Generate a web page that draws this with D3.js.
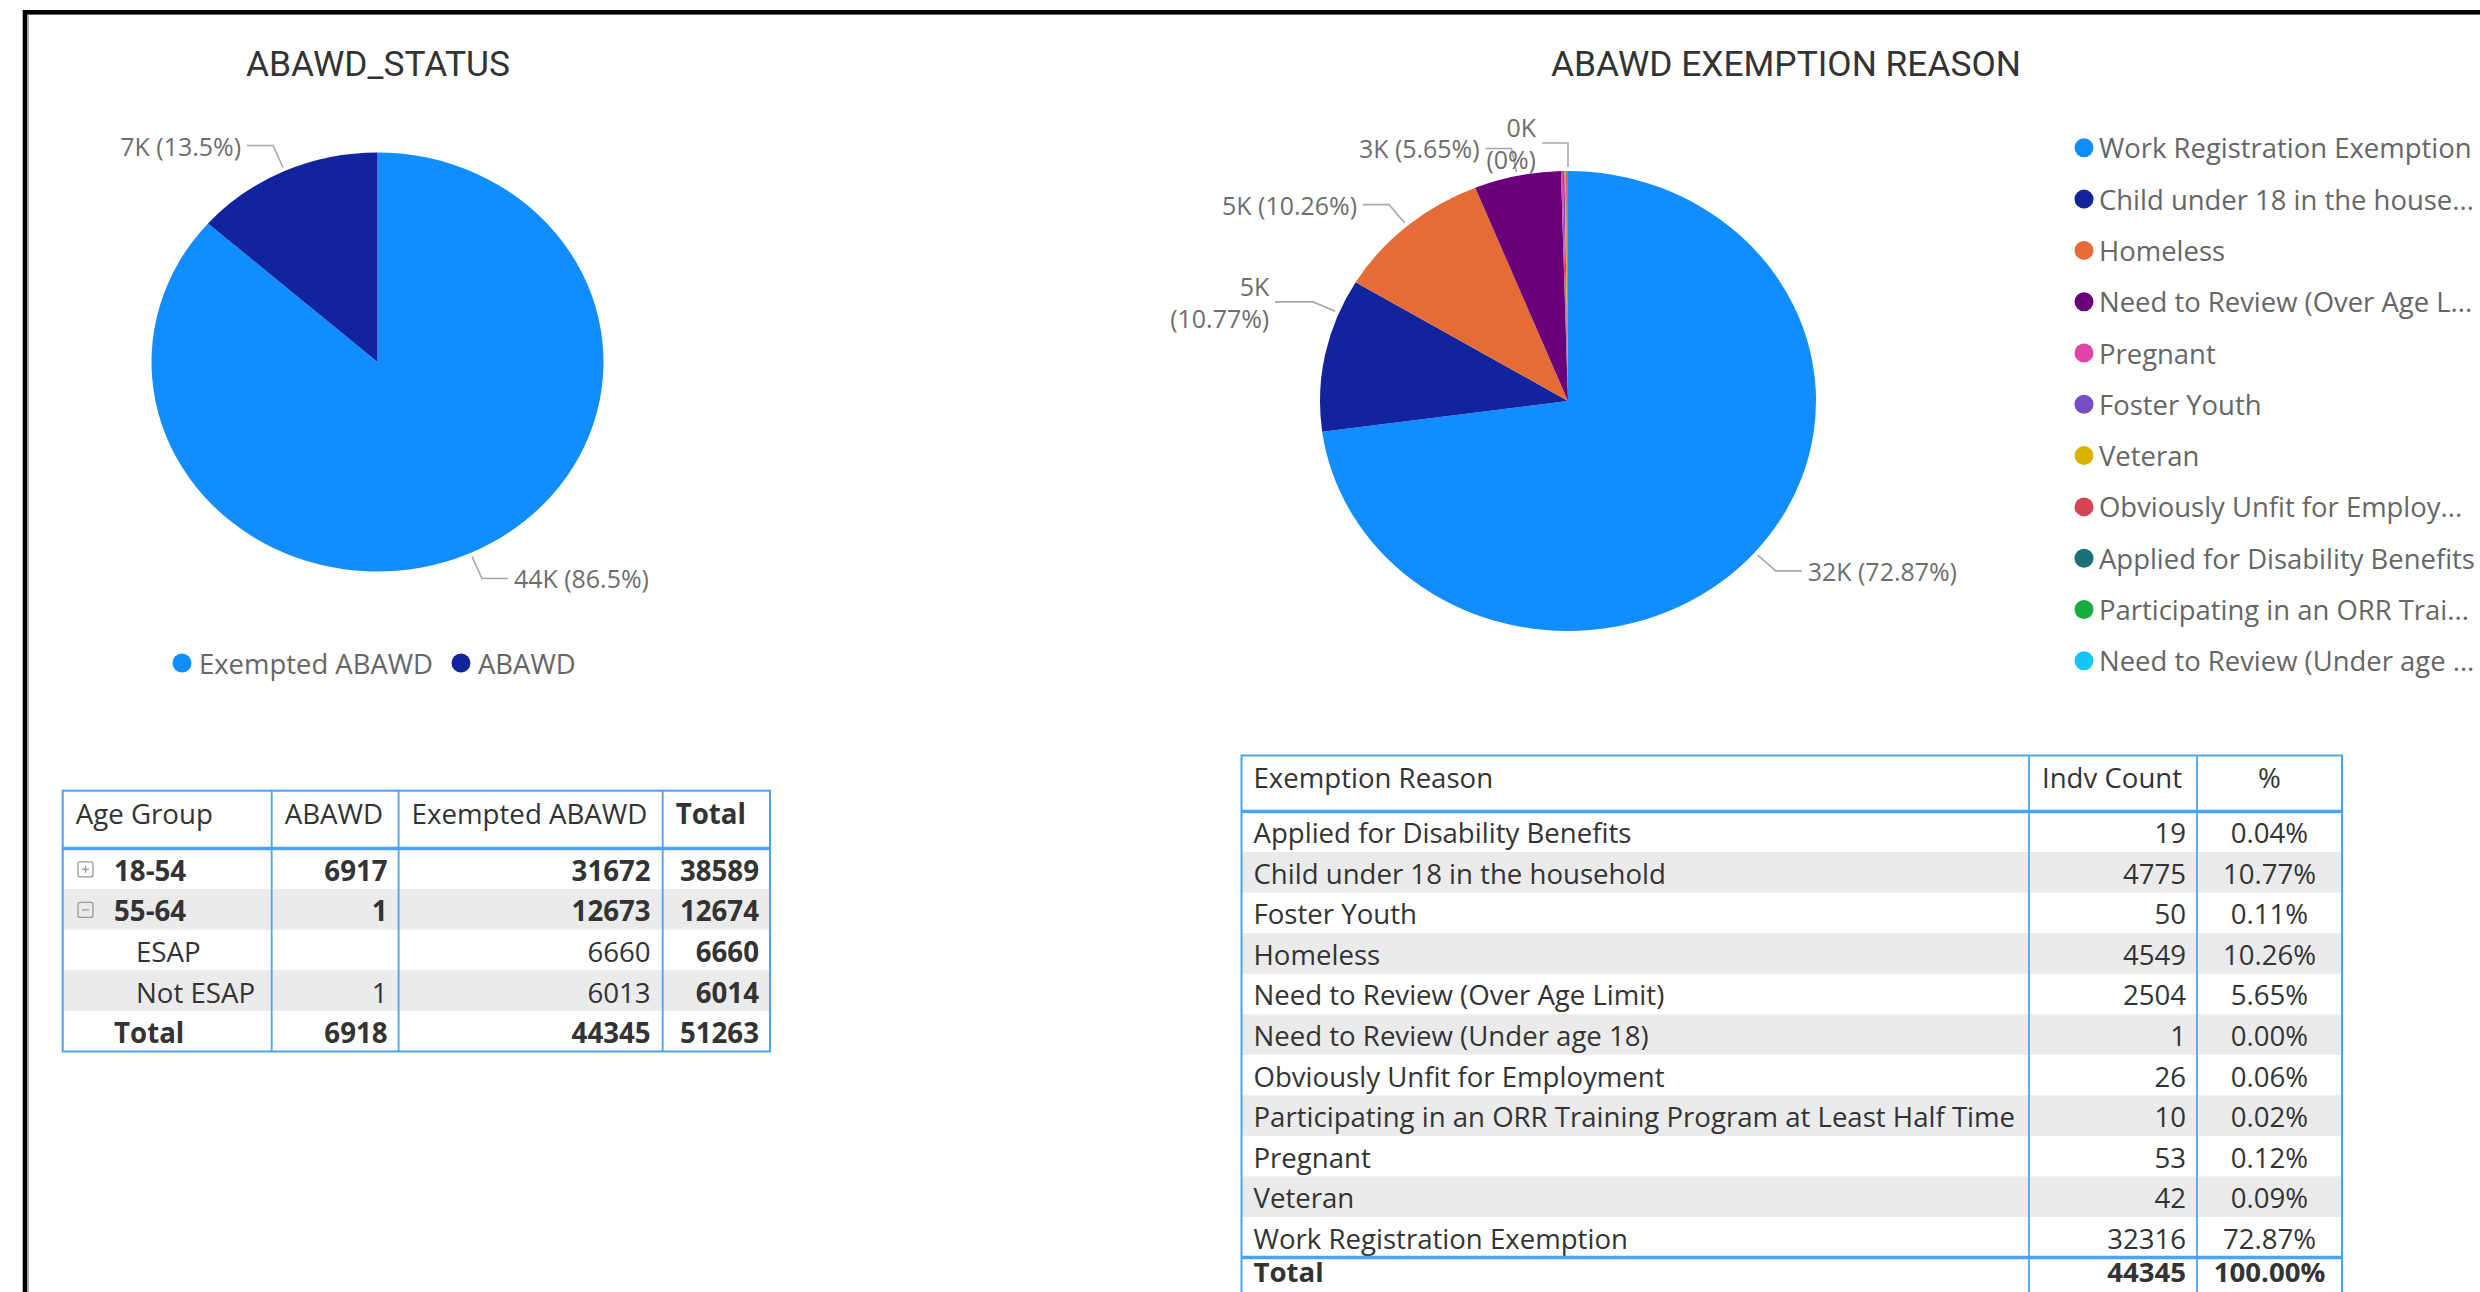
<!DOCTYPE html>
<html>
<head>
<meta charset="utf-8">
<script src="https://cdn.jsdelivr.net/npm/d3@7"></script>
<style>
  html, body { margin: 0; padding: 0; background: #ffffff; }
  svg { display: block; }
</style>
</head>
<body>
<svg id="chart" width="2480" height="1292"></svg>
<script>
// ---------------- DATA ----------------
const statusTitle = "ABAWD_STATUS";
const statusCategories = ["Exempted ABAWD", "ABAWD"];
const statusValues = [44345, 6918];
const statusPieLabels = ["44K (86.5%)", "7K (13.5%)"];

const reasonTitle = "ABAWD EXEMPTION REASON";
const reasonCategories = [
  "Work Registration Exemption", "Child under 18 in the household", "Homeless",
  "Need to Review (Over Age Limit)", "Pregnant", "Foster Youth", "Veteran",
  "Obviously Unfit for Employment", "Applied for Disability Benefits",
  "Participating in an ORR Training Program at Least Half Time", "Need to Review (Under age 18)"
];
const reasonValues = [32316, 4775, 4549, 2504, 53, 50, 42, 26, 19, 10, 1];
const reasonLegendLabels = [
  "Work Registration Exemption", "Child under 18 in the house...", "Homeless",
  "Need to Review (Over Age L...", "Pregnant", "Foster Youth", "Veteran",
  "Obviously Unfit for Employ...", "Applied for Disability Benefits",
  "Participating in an ORR Trai...", "Need to Review (Under age ..."
];
const reasonPieLabels = ["32K (72.87%)", "5K\n(10.77%)", "5K (10.26%)", "3K (5.65%)", "", "", "", "", "", "", "0K\n(0%)"];

// Age group matrix
const ageHeaders = ["Age Group", "ABAWD", "Exempted ABAWD", "Total"];
const ageGroupLabels = ["18-54", "55-64", "ESAP", "Not ESAP", "Total"];
const ageAbawd = [6917, 1, null, 1, 6918];
const ageExempted = [31672, 12673, 6660, 6013, 44345];
const ageTotal = [38589, 12674, 6660, 6014, 51263];

// Exemption reason table
const reasonHeaders = ["Exemption Reason", "Indv Count", "%"];
const reasonTableNames = [
  "Applied for Disability Benefits", "Child under 18 in the household", "Foster Youth", "Homeless",
  "Need to Review (Over Age Limit)", "Need to Review (Under age 18)", "Obviously Unfit for Employment",
  "Participating in an ORR Training Program at Least Half Time", "Pregnant", "Veteran",
  "Work Registration Exemption"
];
const reasonTableCounts = [19, 4775, 50, 4549, 2504, 1, 26, 10, 53, 42, 32316];

// ---------------- STYLE ----------------
const statusColors = ["#118DFF", "#12239E"];
const reasonColors = ["#118DFF", "#12239E", "#E66C37", "#6B007B", "#E044A7", "#744EC2",
                      "#D9B300", "#D64550", "#197278", "#1AAB40", "#15C6F4"];
const FONT = "'Open Sans', 'Noto Sans', sans-serif";
const TITLE_FONT = "Roboto, 'DejaVu Sans', sans-serif";
const BLUE = "#4aa3f7";
const GRAYROW = "#ebebeb";
const TEXT = "#333333";
const SOFT = "#666666";

const W = 2480, H = 1292;
const svg = d3.select("#chart");

function fit(text, target, family, weight) {
  const t = svg.append("text").attr("font-family", family).attr("font-weight", weight || 400)
    .attr("font-size", 100).text(text);
  const w = t.node().getComputedTextLength();
  t.remove();
  return 100 * target / w;
}

const titleSize = fit(statusTitle, 264, TITLE_FONT, 400);
const legendSize = fit("Exempted ABAWD", 234, FONT, 400);
const labelSize = fit("44K (86.5%)", 135, FONT, 400);
const table1Size = fit("Exempted ABAWD", 236, FONT, 400);
const table2Size = fit("Participating in an ORR Training Program at Least Half Time", 762, FONT, 400);

// ---------------- FRAME ----------------
svg.append("rect").attr("x", 25).attr("y", 12.3).attr("width", W).attr("height", H + 20)
  .attr("fill", "none").attr("stroke", "#000").attr("stroke-width", 4.6);
svg.append("line").attr("x1", 28.2).attr("x2", 28.2).attr("y1", 14.6).attr("y2", H)
  .attr("stroke", "#9a9a9a").attr("stroke-width", 1.2);

// ---------------- TITLES ----------------
svg.append("text").attr("x", 378).attr("y", 64).attr("text-anchor", "middle")
  .attr("dominant-baseline", "central").attr("font-family", TITLE_FONT)
  .attr("font-size", titleSize).attr("fill", "#333").text(statusTitle);
svg.append("text").attr("x", 1786).attr("y", 64).attr("text-anchor", "middle")
  .attr("dominant-baseline", "central").attr("font-family", TITLE_FONT)
  .attr("font-size", titleSize).attr("fill", "#333").text(reasonTitle);

// ---------------- PIES ----------------
const pieGen = d3.pie().sort(null).value(d => d);

function drawPie(p, values, colors) {
  const arcs = pieGen(values);
  const g = svg.append("g")
    .attr("transform", `translate(${p.cx},${p.cy}) scale(${p.rx / p.ry},1)`);
  g.selectAll("path").data(arcs).join("path")
    .attr("d", d3.arc().innerRadius(0).outerRadius(p.ry))
    .attr("fill", (d, i) => colors[i]);
  return arcs;
}

function drawPieLabels(p, arcs, labels, anchorT, hLen) {
  arcs.forEach((a, i) => {
    const lab = labels[i];
    if (!lab) return;
    const t = anchorT[i] === undefined ? 0.5 : anchorT[i];
    const ang = a.startAngle + (a.endAngle - a.startAngle) * t;
    const pt = off => [p.cx + (p.rx + off) * Math.sin(ang), p.cy - (p.ry + off) * Math.cos(ang)];
    const s = pt(4), e = pt(28);
    const right = Math.sin(ang) > 0;
    const len = (hLen[i] === undefined ? 26 : hLen[i]);
    const end = [e[0] + (right ? len : -len), e[1]];
    svg.append("polyline").attr("points", [s, e, end].map(q => q.join(",")).join(" "))
      .attr("fill", "none").attr("stroke", "#a8a8a8").attr("stroke-width", 1.6);
    const lines = lab.split("\n");
    const lh = labelSize * 1.3;
    lines.forEach((ln, k) => {
      svg.append("text")
        .attr("x", end[0] + (right ? 6 : -6))
        .attr("y", e[1] + (k - (lines.length - 1) / 2) * lh)
        .attr("text-anchor", right ? "start" : "end")
        .attr("dominant-baseline", "central")
        .attr("font-family", FONT).attr("font-size", labelSize).attr("fill", "#6e6e6e")
        .text(ln);
    });
  });
}

const pie1 = { cx: 377.5, cy: 362, rx: 226, ry: 209.5 };
const arcs1 = drawPie(pie1, statusValues, statusColors);
drawPieLabels(pie1, arcs1, statusPieLabels, {}, {});

const pie2 = { cx: 1568, cy: 401, rx: 248, ry: 230 };
const arcs2 = drawPie(pie2, reasonValues, reasonColors);
drawPieLabels(pie2, arcs2, reasonPieLabels, { 1: 0.78 }, { 1: 38 });

// ---------------- LEGENDS ----------------
(function () {
  let x = 182;
  const y = 663;
  statusCategories.forEach((c, i) => {
    svg.append("circle").attr("cx", x).attr("cy", y).attr("r", 9.5).attr("fill", statusColors[i]);
    const t = svg.append("text").attr("x", x + 17).attr("y", y).attr("dominant-baseline", "central")
      .attr("font-family", FONT).attr("font-size", legendSize).attr("fill", SOFT).text(c);
    x = x + 17 + t.node().getComputedTextLength() + 28;
  });
})();

reasonLegendLabels.forEach((c, i) => {
  const y = 147.8 + i * 51.3;
  svg.append("circle").attr("cx", 2084).attr("cy", y).attr("r", 9.5).attr("fill", reasonColors[i]);
  svg.append("text").attr("x", 2099).attr("y", y).attr("dominant-baseline", "central")
    .attr("font-family", FONT).attr("font-size", legendSize).attr("fill", SOFT).text(c);
});

// ---------------- TABLE 1 (matrix) ----------------
(function () {
  const cols = [62.7, 271.7, 398.6, 662.7, 770];
  const top = 790.7, headBottom = 848.5, rowH = 40.6;
  const n = ageGroupLabels.length;
  const bottom = headBottom + n * rowH;
  const fs = table1Size;
  const g = svg.append("g").attr("font-family", FONT).attr("font-size", fs).attr("fill", TEXT);

  ageGroupLabels.forEach((lab, r) => {
    if (r % 2 === 1) {
      g.append("rect").attr("x", cols[0]).attr("y", headBottom + r * rowH)
        .attr("width", cols[4] - cols[0]).attr("height", rowH).attr("fill", GRAYROW);
    }
  });

  // header
  ageHeaders.forEach((h, c) => {
    g.append("text").attr("x", cols[c] + 13).attr("y", top + 22)
      .attr("dominant-baseline", "central").attr("font-weight", c === 3 ? 700 : 400).text(h);
  });

  const fmt = v => (v === null ? "" : String(v));
  ageGroupLabels.forEach((lab, r) => {
    const cy = headBottom + r * rowH + rowH / 2 + 1;
    const isGroup = r < 2, isTotal = r === n - 1;
    const lx = isGroup || isTotal ? 114 : 136;
    g.append("text").attr("x", lx).attr("y", cy).attr("dominant-baseline", "central")
      .attr("font-weight", (isGroup || isTotal) ? 700 : 400).text(lab);
    if (isGroup) {
      const bx = 78, by = cy - 8, bs = 15;
      g.append("rect").attr("x", bx).attr("y", by).attr("width", bs).attr("height", bs).attr("rx", 2)
        .attr("fill", "none").attr("stroke", "#9a9a9a").attr("stroke-width", 1.3);
      g.append("line").attr("x1", bx + 4).attr("x2", bx + bs - 4).attr("y1", by + bs / 2).attr("y2", by + bs / 2)
        .attr("stroke", "#9a9a9a").attr("stroke-width", 1.3);
      if (r === 0) {
        g.append("line").attr("x1", bx + bs / 2).attr("x2", bx + bs / 2).attr("y1", by + 4).attr("y2", by + bs - 4)
          .attr("stroke", "#9a9a9a").attr("stroke-width", 1.3);
      }
    }
    const bold = isGroup || isTotal;
    [[ageAbawd[r], cols[2] - 11, bold], [ageExempted[r], cols[3] - 12, bold], [ageTotal[r], cols[4] - 11, true]]
      .forEach(([v, x, b]) => {
        g.append("text").attr("x", x).attr("y", cy).attr("text-anchor", "end")
          .attr("dominant-baseline", "central").attr("font-weight", b ? 700 : 400).text(fmt(v));
      });
  });

  // borders
  const lines = svg.append("g").attr("stroke", BLUE).attr("fill", "none");
  lines.append("rect").attr("x", cols[0]).attr("y", top).attr("width", cols[4] - cols[0])
    .attr("height", bottom - top).attr("stroke-width", 2);
  cols.slice(1, 4).forEach(x => lines.append("line").attr("x1", x).attr("x2", x)
    .attr("y1", top).attr("y2", bottom).attr("stroke-width", 1.8));
  lines.append("line").attr("x1", cols[0]).attr("x2", cols[4]).attr("y1", headBottom).attr("y2", headBottom)
    .attr("stroke-width", 3.4);
})();

// ---------------- TABLE 2 ----------------
(function () {
  const cols = [1241.5, 2029, 2197, 2342];
  const top = 755.5, headBottom = 811.5, rowH = 40.55;
  const n = reasonTableNames.length;
  const totalTop = headBottom + n * rowH;
  const bottom = totalTop + rowH + 6;
  const fs = table2Size;
  const total = d3.sum(reasonTableCounts);
  const pct = d3.format(".2%");
  const g = svg.append("g").attr("font-family", FONT).attr("font-size", fs).attr("fill", TEXT);

  reasonTableNames.forEach((nm, r) => {
    if (r % 2 === 1) {
      g.append("rect").attr("x", cols[0]).attr("y", headBottom + r * rowH)
        .attr("width", cols[3] - cols[0]).attr("height", rowH).attr("fill", GRAYROW);
    }
  });

  const hy = top + 21.5;
  g.append("text").attr("x", cols[0] + 12).attr("y", hy).attr("dominant-baseline", "central").text(reasonHeaders[0]);
  g.append("text").attr("x", cols[1] + 13).attr("y", hy).attr("dominant-baseline", "central").text(reasonHeaders[1]);
  g.append("text").attr("x", (cols[2] + cols[3]) / 2).attr("y", hy).attr("text-anchor", "middle")
    .attr("dominant-baseline", "central").text(reasonHeaders[2]);

  const rows = reasonTableNames.map((nm, i) => ({ nm, v: reasonTableCounts[i], bold: false }));
  rows.push({ nm: "Total", v: total, bold: true });
  rows.forEach((d, r) => {
    const cy = headBottom + r * rowH + rowH / 2 + (d.bold ? -6 : 1);
    const w = d.bold ? 700 : 400;
    g.append("text").attr("x", cols[0] + 12).attr("y", cy).attr("dominant-baseline", "central")
      .attr("font-weight", w).text(d.nm);
    g.append("text").attr("x", cols[2] - 11).attr("y", cy).attr("text-anchor", "end")
      .attr("dominant-baseline", "central").attr("font-weight", w).text(d.v);
    g.append("text").attr("x", (cols[2] + cols[3]) / 2).attr("y", cy).attr("text-anchor", "middle")
      .attr("dominant-baseline", "central").attr("font-weight", w).text(pct(d.v / total));
  });

  const lines = svg.append("g").attr("stroke", BLUE).attr("fill", "none");
  lines.append("rect").attr("x", cols[0]).attr("y", top).attr("width", cols[3] - cols[0])
    .attr("height", bottom - top).attr("stroke-width", 2);
  cols.slice(1, 3).forEach(x => lines.append("line").attr("x1", x).attr("x2", x)
    .attr("y1", top).attr("y2", bottom).attr("stroke-width", 1.8));
  [headBottom, totalTop].forEach(y => lines.append("line").attr("x1", cols[0]).attr("x2", cols[3])
    .attr("y1", y).attr("y2", y).attr("stroke-width", 3.4));
})();
</script>
</body>
</html>
